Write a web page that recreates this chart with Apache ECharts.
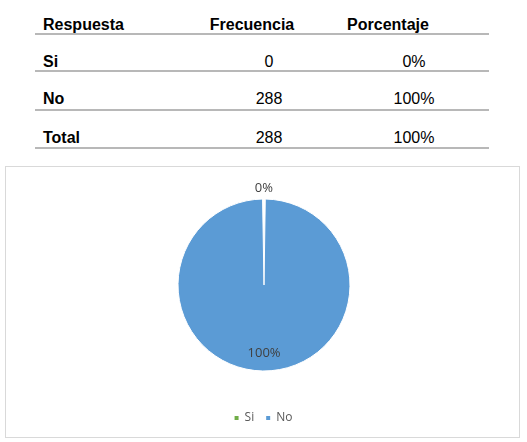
<!DOCTYPE html>
<html>
<head>
<meta charset="utf-8">
<script src="https://cdn.jsdelivr.net/npm/echarts@6/dist/echarts.min.js"></script>
<style>
  body { margin: 0; background: #fff; width: 527px; height: 442px; position: relative; overflow: hidden; }
  .cell { position: absolute; font-family: "Liberation Sans", Arial, sans-serif; font-size: 16px; line-height: 16px; color: #000; white-space: nowrap; }
  .b { font-weight: bold; }
  .c { transform: translateX(-50%); }
  .rule { position: absolute; left: 35px; width: 454px; height: 2px; background: #b8b8b8; }
  #chart { position: absolute; left: 5px; top: 166px; width: 513px; height: 270px; border: 1px solid #d9d9d9; }
</style>
</head>
<body>
<div id="table"></div>
<div id="chart"></div>
<script>
const headers = ["Respuesta", "Frecuencia", "Porcentaje"];
const categories = ["Si", "No"];
const frequencies = [0, 288];
const percentages = ["0%", "100%"];
const totalRow = ["Total", "288", "100%"];

// table
const table = document.getElementById("table");
function cell(text, x, top, cls) {
  const d = document.createElement("div");
  d.className = "cell " + cls;
  d.style.left = x + "px";
  d.style.top = top + "px";
  d.textContent = text;
  table.appendChild(d);
}
function rule(y) {
  const d = document.createElement("div");
  d.className = "rule";
  d.style.top = y + "px";
  table.appendChild(d);
}
cell(headers[0], 43, 16.5, "b");
cell(headers[1], 252, 16.5, "b c");
cell(headers[2], 388, 16.5, "b c");
rule(33);
const rowTops = [53.5, 90.5];
const ruleYs = [70, 109];
categories.forEach((c, i) => {
  cell(c, 43, rowTops[i], "b");
  cell(String(frequencies[i]), 269, rowTops[i], "c");
  cell(percentages[i], 414, rowTops[i], "c");
  rule(ruleYs[i]);
});
cell(totalRow[0], 43, 129.5, "b");
cell(totalRow[1], 269, 129.5, "c");
cell(totalRow[2], 414, 129.5, "c");
rule(147);

// pie
var myChart = echarts.init(document.getElementById("chart"));
const colors = ["#70AD47", "#5B9BD5"];
const labelOffsets = [[0, -51], [0, 22]];
const option = {
  animation: false,
  legend: {
    data: categories,
    bottom: 8,
    left: "center",
    itemWidth: 6,
    itemHeight: 6,
    itemGap: 10,
    icon: "rect",
    textStyle: { color: "#595959", fontSize: 12, fontFamily: "Open Sans" },
  },
  series: [
    {
      type: "pie",
      center: [258, 118],
      radius: 86,
      startAngle: 90.5,
      clockwise: true,
      padAngle: 0.9,
      stillShowZeroSum: true,
      emphasis: { disabled: true },
      itemStyle: { borderColor: "#fff", borderWidth: 1 },
      label: {
        position: "inside",
        color: "#404040",
        fontSize: 13,
        fontFamily: "Open Sans",
      },
      labelLine: { show: false },
      data: categories.map((c, i) => ({
        name: c,
        value: frequencies[i],
        itemStyle: { color: colors[i] },
        label: { formatter: percentages[i], offset: labelOffsets[i] },
      })),
    },
  ],
};
myChart.setOption(option);
</script>
</body>
</html>
